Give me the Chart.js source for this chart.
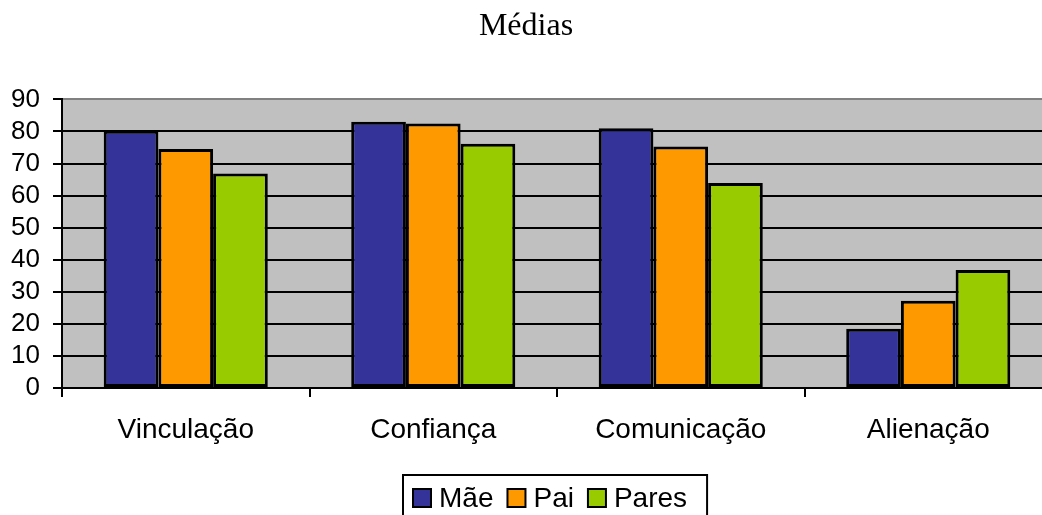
<!DOCTYPE html>
<html>
<head>
<meta charset="utf-8">
<script src="https://cdn.jsdelivr.net/npm/chart.js@4/dist/chart.umd.min.js"></script>
<style>
html,body{margin:0;padding:0;background:#fff;overflow:hidden;width:1042px;height:515px;}
#wrap{position:relative;width:1060px;height:515px;}
</style>
</head>
<body>
<div id="wrap"><canvas id="c"></canvas></div>
<script>
const categories = ["Vinculação", "Confiança", "Comunicação", "Alienação"];
const seriesNames = ["Mãe", "Pai", "Pares"];
const maeValues = [80.2, 83.0, 81.0, 18.5];
const paiValues = [74.5, 82.5, 75.3, 27.2];
const paresValues = [66.9, 76.2, 63.9, 36.8];
const yTicks = [0, 10, 20, 30, 40, 50, 60, 70, 80, 90];
const colors = ["#333399", "#FF9900", "#99CC00"];

const SANS = 'Arial, "Liberation Sans", sans-serif';
const SERIF = '"Times New Roman", "Liberation Serif", serif';

const plotBg = {
  id: 'plotBg',
  beforeDraw(chart) {
    const {ctx, chartArea: a} = chart;
    ctx.save();
    ctx.fillStyle = '#C0C0C0';
    ctx.fillRect(a.left, a.top, a.right - a.left, a.bottom - a.top);
    ctx.restore();
  }
};

const boxLegend = {
  id: 'boxLegend',
  afterDraw(chart) {
    const ctx = chart.ctx;
    ctx.save();
    ctx.font = '28px ' + SANS;
    ctx.textBaseline = 'alphabetic';
    ctx.textAlign = 'left';
    const left = 403, top = 475, sw = 18, swTop = 489, base = 507;
    let x = 413;
    let lastEnd = x;
    chart.data.datasets.forEach((ds) => {
      ctx.fillStyle = ds.backgroundColor;
      ctx.fillRect(x, swTop, sw, sw);
      ctx.lineWidth = 2;
      ctx.strokeStyle = '#000';
      ctx.strokeRect(x, swTop, sw, sw);
      ctx.fillStyle = '#000';
      const tx = x + sw + 8;
      ctx.fillText(ds.label, tx, base);
      const w = ctx.measureText(ds.label).width;
      lastEnd = tx + w;
      x = lastEnd + 14;
    });
    ctx.lineWidth = 2;
    ctx.strokeStyle = '#000';
    ctx.strokeRect(left, top, lastEnd + 20 - left, 60);
    ctx.restore();
  }
};

new Chart(document.getElementById('c'), {
  type: 'bar',
  data: {
    labels: categories,
    datasets: [
      {label: seriesNames[0], data: maeValues, backgroundColor: colors[0]},
      {label: seriesNames[1], data: paiValues, backgroundColor: colors[1]},
      {label: seriesNames[2], data: paresValues, backgroundColor: colors[2]}
    ].map(d => Object.assign(d, {borderColor: '#000', borderWidth: 3, borderSkipped: false,
      categoryPercentage: 0.663, barPercentage: 1.0}))
  },
  options: {
    responsive: true,
    maintainAspectRatio: false,
    animation: false,
    layout: {padding: {left: 0, right: 8, top: 0, bottom: 67}},
    plugins: {
      legend: {display: false},
      tooltip: {enabled: false},
      title: {
        display: true,
        text: 'Médias',
        color: '#000',
        font: {family: SERIF, size: 32, weight: 'normal'},
        padding: {top: 7, bottom: 54}
      }
    },
    scales: {
      x: {
        offset: true,
        grid: {offset: true, drawOnChartArea: false, drawTicks: true, tickLength: 9,
          color: '#000', lineWidth: 2},
        border: {display: true, color: '#000', width: 2},
        ticks: {color: '#000', font: {family: SANS, size: 28}, padding: 16,
          maxRotation: 0, autoSkip: false},
        afterFit(s) { s.height = 60; }
      },
      y: {
        min: 0, max: 90,
        afterBuildTicks(s) { s.ticks = yTicks.map(v => ({value: v})); },
        grid: {
          drawTicks: true, tickLength: 9,
          color: (c) => c.tick && c.tick.value === 90 ? '#808080' : '#000',
          tickColor: '#000',
          lineWidth: 2
        },
        border: {display: true, color: '#000', width: 2},
        ticks: {color: '#000', font: {family: SANS, size: 26}, padding: 13, autoSkip: false},
        afterFit(s) { s.width = 62; }
      }
    }
  },
  plugins: [plotBg, boxLegend]
});
</script>
</body>
</html>
